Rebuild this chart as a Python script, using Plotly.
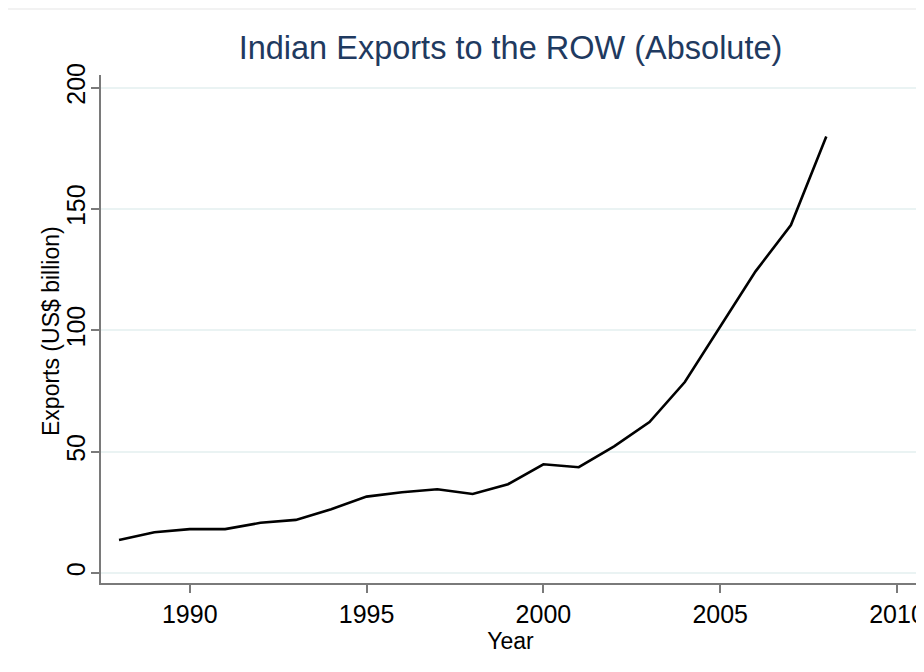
import plotly.graph_objects as go

years = [1988, 1989, 1990, 1991, 1992, 1993, 1994, 1995, 1996, 1997, 1998,
         1999, 2000, 2001, 2002, 2003, 2004, 2005, 2006, 2007, 2008]
exports = [13.6, 16.8, 18.1, 18.1, 20.7, 21.9, 26.3, 31.5, 33.3, 34.5, 32.6,
           36.6, 44.8, 43.6, 52.2, 62.2, 78.7, 101.5, 124.3, 143.4, 179.9]

x_ticks = [1990, 1995, 2000, 2005, 2010]
y_ticks = [0, 50, 100, 150, 200]

title_text = "Indian Exports to the ROW (Absolute)"
x_title = "Year"
y_title = "Exports (US$ billion)"

fig = go.Figure()
fig.add_trace(go.Scatter(
    x=years, y=exports, mode="lines",
    line=dict(color="black", width=2.6),
    showlegend=False, hoverinfo="skip",
))

font_family = "Liberation Sans, Arial, sans-serif"
W, H = 916, 664
L, R, T, B = 93, 4, 67, 89
plot_h = H - T - B

fig.update_layout(
    width=W, height=H,
    paper_bgcolor="white", plot_bgcolor="white",
    margin=dict(l=L, r=R, t=T, b=B, autoexpand=False),
    title=dict(text=title_text, x=0.5, xref="paper", y=1 - 40 / H, yref="container",
               yanchor="middle", xanchor="center",
               font=dict(family=font_family, size=32.5, color="#1f3a60")),
    font=dict(family=font_family, color="black"),
)

fig.update_xaxes(
    range=[1987.49, 2010.65], tickvals=x_ticks, ticktext=[str(v) for v in x_ticks],
    showline=True, linecolor="#7a7a7a", linewidth=2,
    ticks="outside", ticklen=8, tickwidth=2, tickcolor="#7a7a7a",
    showgrid=False, zeroline=False, automargin=False, ticklabeloverflow="allow",
    tickfont=dict(size=25, family=font_family, color="black"),
    title=dict(text=x_title, standoff=0, font=dict(size=23, family=font_family)),
)
fig.update_yaxes(
    range=[-4.1, 205.2], tickvals=y_ticks, ticktext=[str(v) for v in y_ticks],
    tickangle=-90, automargin=False, ticklabelstandoff=-4,
    showline=True, linecolor="#7a7a7a", linewidth=2,
    ticks="outside", ticklen=8, tickwidth=2, tickcolor="#7a7a7a",
    showgrid=True, gridcolor="#eaf3f3", gridwidth=2, zeroline=False,
    tickfont=dict(size=25, family=font_family, color="black"),
)

fig.add_annotation(
    text=y_title, xref="paper", yref="paper",
    x=(43 - L) / (W - L - R), y=(H - B - 323) / plot_h,
    xanchor="center", yanchor="middle", textangle=-90, showarrow=False,
    font=dict(size=23, family=font_family, color="black"),
)

fig.add_shape(type="line", xref="paper", yref="paper",
              x0=-0.2, x1=1.1, y0=(H - B - 1) / plot_h, y1=(H - B - 1) / plot_h,
              line=dict(color="#eeeeee", width=1.5))

fig.write_html("out.html")
